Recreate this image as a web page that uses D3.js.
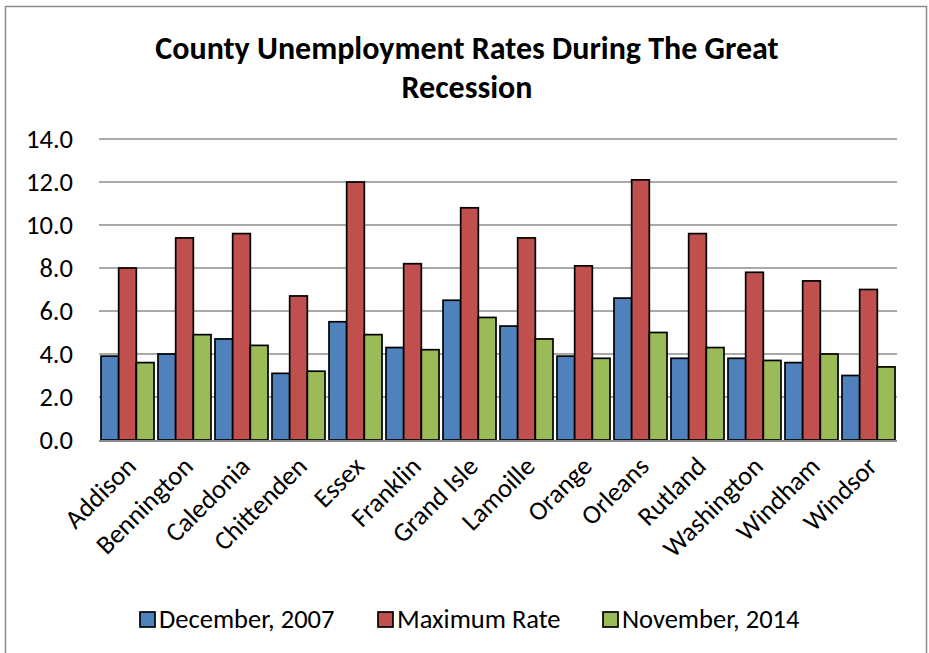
<!DOCTYPE html>
<html><head><meta charset="utf-8">
<script src="https://cdn.jsdelivr.net/npm/d3@7"></script>
<style>body{margin:0;background:#fff;} svg{display:block;font-family:Carlito,Lato,"Open Sans",sans-serif;}</style>
</head><body>
<svg id="c" width="929" height="653"></svg>
<script>
const counties = ["Addison","Bennington","Caledonia","Chittenden","Essex","Franklin","Grand Isle","Lamoille","Orange","Orleans","Rutland","Washington","Windham","Windsor"];
const seriesNames = ["December, 2007","Maximum Rate","November, 2014"];
const dec2007 = [3.9,4.0,4.7,3.1,5.5,4.3,6.5,5.3,3.9,6.6,3.8,3.8,3.6,3.0];
const maxRate = [8.0,9.4,9.6,6.7,12.0,8.2,10.8,9.4,8.1,12.1,9.6,7.8,7.4,7.0];
const nov2014 = [3.6,4.9,4.4,3.2,4.9,4.2,5.7,4.7,3.8,5.0,4.3,3.7,4.0,3.4];
const yTicks = [0,2,4,6,8,10,12,14];
const colors = ["#4F81BD","#C0504D","#9BBB59"];

const svg = d3.select("#c");
const L=99, R=897, T=139, B=440;
const series=[dec2007,maxRate,nov2014];
const FS=26.5;

// frame
svg.append("rect").attr("x",5.5).attr("y",6.5).attr("width",921).attr("height",660)
  .attr("fill","none").attr("stroke","#8c8c8c").attr("stroke-width",1.5);

// title
const title = svg.append("text").attr("text-anchor","middle").attr("font-weight","bold")
  .attr("font-size",32).attr("fill","#000");
title.append("tspan").attr("x",467).attr("y",59).text("County Unemployment Rates During The Great");
title.append("tspan").attr("x",467).attr("y",98).text("Recession");

const y = d3.scaleLinear().domain([0,14]).range([B,T]);
const x0 = d3.scaleBand().domain(counties).range([L,R]).paddingInner(0.07).paddingOuter(0.035);
const x1 = d3.scaleBand().domain([0,1,2]).range([0,x0.bandwidth()]);

// gridlines
svg.append("g").selectAll("line").data(yTicks.filter(d=>d>0)).join("line")
  .attr("x1",L).attr("x2",R).attr("y1",d=>y(d)).attr("y2",d=>y(d))
  .attr("stroke","#8c8c8c").attr("stroke-width",1.3);

// y labels
const yAxis = d3.axisLeft(y).tickValues(yTicks).tickFormat(d3.format(".1f")).tickSize(0).tickPadding(26);
const ya = svg.append("g").attr("transform",`translate(${L},0)`).call(yAxis);
ya.select(".domain").remove();
ya.selectAll("text").attr("font-size",FS).attr("fill","#000").attr("font-family","Carlito,Lato,'Open Sans',sans-serif");

// bars
const g = svg.append("g");
counties.forEach((c,i)=>{
  series.forEach((s,j)=>{
    g.append("rect").attr("x",x0(c)+x1(j)).attr("y",y(s[i]))
      .attr("width",x1.bandwidth()).attr("height",B-y(s[i]))
      .attr("fill",colors[j]).attr("stroke","#000").attr("stroke-width",1.7);
  });
});

// x axis
svg.append("line").attr("x1",L).attr("x2",R).attr("y1",B+1).attr("y2",B+1).attr("stroke","#8c8c8c").attr("stroke-width",1.8);
const xa = svg.append("g").attr("transform",`translate(0,${B})`);
xa.selectAll("text").data(counties).join("text")
  .attr("text-anchor","end").attr("font-size",FS).attr("fill","#000")
  .attr("transform",d=>`translate(${x0(d)+x0.bandwidth()/2+10},${28}) rotate(-45)`)
  .text(d=>d);

// legend
const legX=[140,378,603];
seriesNames.forEach((n,j)=>{
  svg.append("rect").attr("x",legX[j]).attr("y",612).attr("width",15).attr("height",15)
    .attr("fill",colors[j]).attr("stroke","#000").attr("stroke-width",1.7);
  svg.append("text").attr("x",legX[j]+19).attr("y",628).attr("font-size",FS).attr("fill","#000").text(n);
});
</script>
</body></html>
